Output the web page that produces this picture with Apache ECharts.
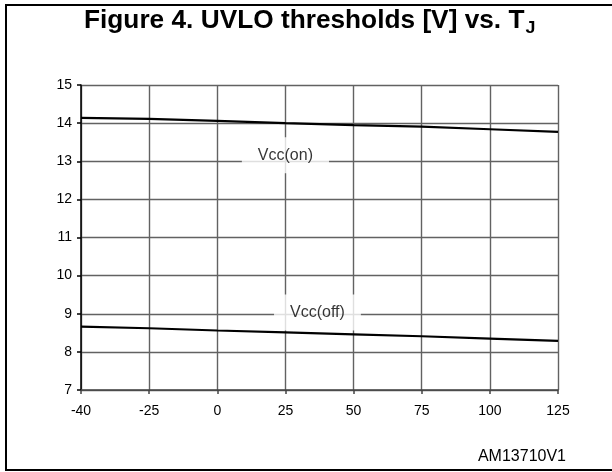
<!DOCTYPE html>
<html>
<head>
<meta charset="utf-8">
<script src="https://cdn.jsdelivr.net/npm/echarts@6/dist/echarts.min.js"></script>
<style>html,body{margin:0;padding:0;background:#fff}#c{width:612px;height:472px}</style>
</head>
<body>
<div id="c"></div>
<script>
var tempLabels = ['-40', '-25', '0', '25', '50', '75', '100', '125'];
var vccOn  = [14.14, 14.11, 14.06, 14.00, 13.95, 13.91, 13.84, 13.77];
var vccOff = [8.66, 8.62, 8.56, 8.51, 8.46, 8.41, 8.35, 8.29];
var yTicks = [7, 8, 9, 10, 11, 12, 13, 14, 15];
var labelOn = {name: 'Vcc(on)', x: 3.0, y: 13.16};
var labelOff = {name: 'Vcc(off)', x: 3.47, y: 9.03};

var chart = echarts.init(document.getElementById('c'), null, {renderer: 'canvas'});
var font = 'Liberation Sans, Arial, sans-serif';
function pairs(arr) { return arr.map(function (v, i) { return [i, v]; }); }

chart.setOption({
  animation: false,
  backgroundColor: '#fff',
  graphic: [{
    type: 'rect',
    shape: {x: 6, y: 5, width: 610, height: 465},
    style: {fill: 'none', stroke: '#000', lineWidth: 2},
    silent: true
  }, {
    type: 'text',
    x: 84, y: 6, scaleX: 1.05,
    style: {
      text: '{a|Figure 4. UVLO thresholds [V] vs. T}{s|J}',
      rich: {
        a: {fontSize: 25, fontWeight: 'bold', fontFamily: font, fill: '#000', lineHeight: 30},
        s: {fontSize: 17, fontWeight: 'bold', fontFamily: font, fill: '#000', lineHeight: 30, padding: [14, 0, 0, 1]}
      }
    }
  }, {
    type: 'text',
    right: 46,
    top: 449,
    style: {text: 'AM13710V1', font: '16px ' + font, fill: '#000'}
  }],
  grid: {left: 81, right: 54, top: 85, bottom: 82},
  xAxis: {
    type: 'value', min: 0, max: 7, interval: 1,
    axisLine: {show: true, lineStyle: {color: '#444', width: 1.5}},
    axisTick: {show: true, length: 4, lineStyle: {color: '#444', width: 1.5}},
    axisLabel: {margin: 14, fontSize: 14, fontFamily: font, color: '#000',
      formatter: function (v) { return tempLabels[v]; }},
    splitLine: {show: true, lineStyle: {color: '#626262', width: 1.4}}
  },
  yAxis: {
    type: 'value', min: yTicks[0], max: yTicks[yTicks.length - 1], interval: 1,
    axisLine: {show: true, onZero: false, lineStyle: {color: '#000', width: 1.5}},
    axisTick: {show: true, length: 4, lineStyle: {color: '#000', width: 1.5}},
    axisLabel: {margin: 9, fontSize: 14, fontFamily: font, color: '#000'},
    splitLine: {show: true, lineStyle: {color: '#626262', width: 1.4}}
  },
  series: [{
    type: 'line', name: 'Vcc(on)', data: pairs(vccOn), showSymbol: false,
    lineStyle: {color: '#000', width: 2.2}, z: 3
  }, {
    type: 'line', name: 'Vcc(off)', data: pairs(vccOff), showSymbol: false,
    lineStyle: {color: '#000', width: 2.2}, z: 3
  }, {
    type: 'scatter', symbolSize: 0, z: 5,
    data: [
      {name: labelOn.name, value: [labelOn.x, labelOn.y]},
      {name: labelOff.name, value: [labelOff.x, labelOff.y]}
    ],
    label: {
      show: true, position: 'inside', formatter: '{b}',
      fontSize: 16, fontFamily: font, color: '#000',
      backgroundColor: '#fff', padding: [10, 16]
    }
  }]
});
</script>
</body>
</html>
